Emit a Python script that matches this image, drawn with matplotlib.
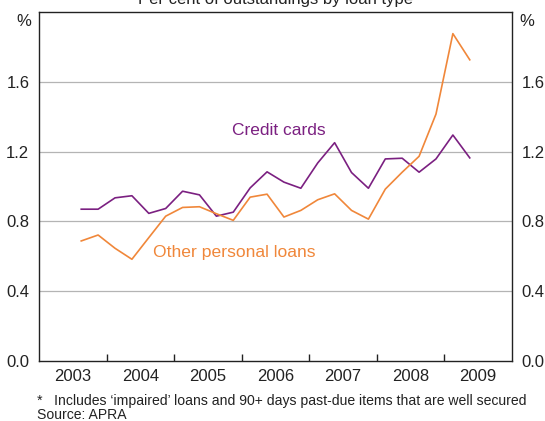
import matplotlib
matplotlib.use("Agg")
import matplotlib.pyplot as plt
import numpy as np

plt.rcParams['font.family'] = ['Liberation Sans', 'DejaVu Sans']

# Quarterly data, Sep 2003 to Jun 2009 (position = year + (month-1.5)/12)
quarter_years = [2003, 2003, 2004, 2004, 2004, 2004, 2005, 2005, 2005, 2005,
                 2006, 2006, 2006, 2006, 2007, 2007, 2007, 2007, 2008, 2008,
                 2008, 2008, 2009, 2009]
quarter_months = [9, 12, 3, 6, 9, 12, 3, 6, 9, 12, 3, 6, 9, 12, 3, 6, 9, 12,
                  3, 6, 9, 12, 3, 6]
credit_cards = [0.870, 0.870, 0.935, 0.947, 0.846, 0.874, 0.973, 0.952, 0.830,
                0.853, 0.992, 1.084, 1.025, 0.990, 1.135, 1.251, 1.080, 0.990,
                1.158, 1.162, 1.082, 1.158, 1.295, 1.164]
other_personal = [0.688, 0.722, 0.646, 0.583, 0.707, 0.830, 0.880, 0.884, 0.844,
                  0.806, 0.939, 0.956, 0.825, 0.863, 0.924, 0.958, 0.863, 0.813,
                  0.985, 1.082, 1.173, 1.415, 1.876, 1.726]
year_labels = ['2003', '2004', '2005', '2006', '2007', '2008', '2009']
y_ticks = [0.0, 0.4, 0.8, 1.2, 1.6]

x = np.array(quarter_years) + (np.array(quarter_months) - 1.5) / 12.0

W, H = 545, 421
fig = plt.figure(figsize=(W / 100, H / 100), dpi=100)
left, right, top, bottom = 39, 512, 12, 361
ax = fig.add_axes([left / W, 1 - bottom / H, (right - left) / W, (bottom - top) / H])

purple = '#7B2081'
orange = '#F0873A'

ax.plot(x, credit_cards, color=purple, lw=1.2, zorder=3)
ax.plot(x, other_personal, color=orange, lw=1.2, zorder=3)

ax.set_xlim(2003, 2010)
ax.set_ylim(0, 2.0)

for yv in y_ticks[1:]:
    ax.axhline(yv, color='#B4B4B4', lw=0.9, zorder=1)

ax.set_yticks(y_ticks)
ax.set_yticklabels([f'{v:.1f}' for v in y_ticks])
ax.tick_params(axis='y', which='both', length=0, labelsize=12, pad=7,
               labelright=True, right=False, left=False, colors='#222222')

# Year ticks at boundaries, labels mid-year
ax.set_xticks(np.arange(2004, 2010), minor=False)
ax.set_xticklabels([])
ax.tick_params(axis='x', which='major', direction='in', length=5, width=1, colors='#222222')
ax.set_xticks(np.arange(2003, 2010) + 0.5, minor=True)
ax.set_xticklabels(year_labels, minor=True)
ax.tick_params(axis='x', which='minor', length=0, labelsize=12, pad=6, colors='#222222')

for sp in ['left', 'right', 'top', 'bottom']:
    ax.spines[sp].set_color('#222222')
    ax.spines[sp].set_linewidth(1.0)

ax.text(2006.55, 1.32, 'Credit cards', color=purple, fontsize=12.5, ha='center', va='center')
ax.text(2005.89, 0.624, 'Other personal loans', color=orange, fontsize=12.6, ha='center', va='center')

fig.text(24 / W, 1 - 21 / H, '%', fontsize=12, ha='center', va='center', color='#222222')
fig.text(527 / W, 1 - 21 / H, '%', fontsize=12, ha='center', va='center', color='#222222')

fig.text((left + right) / 2 / W, 1 - 4 / H, 'Per cent of outstandings by loan type',
         fontsize=12, ha='center', va='baseline', color='#222222')

fig.text(37 / W, 1 - 401 / H,
         '*   Includes \u2018impaired\u2019 loans and 90+ days past-due items that are well secured',
         fontsize=10.1, ha='left', va='center', color='#222222')
fig.text(37 / W, 1 - 415 / H, 'Source: APRA', fontsize=10.1, ha='left', va='center', color='#222222')

fig.savefig('out.png', dpi=100)
